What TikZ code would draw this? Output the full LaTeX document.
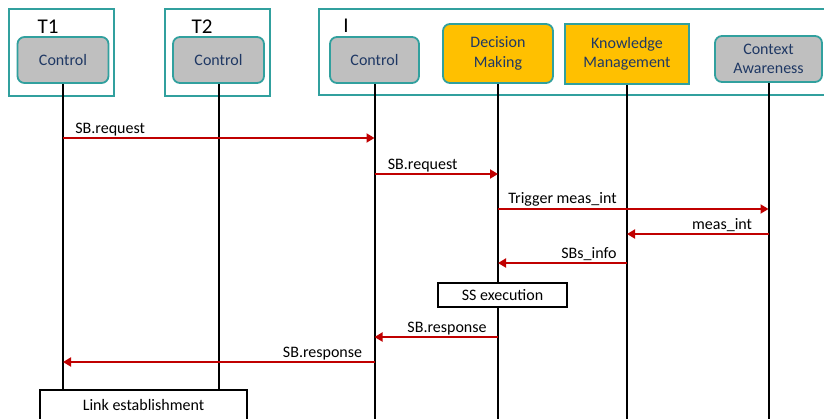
\documentclass[tikz,border=0pt]{standalone}
\usepackage{fontspec}
\setmainfont{Carlito}
\usetikzlibrary{arrows.meta}
\definecolor{frameteal}{RGB}{49,160,158}
\definecolor{boxgray}{RGB}{191,191,191}
\definecolor{boxyellow}{RGB}{255,192,0}
\definecolor{msgred}{RGB}{192,0,0}
\definecolor{boxtext}{RGB}{31,56,100}
\tikzset{
    frame/.style={draw=frameteal,line width=2pt,minimum width=105pt,minimum height=87pt},
    entity/.style={draw=frameteal,line width=1.8pt,rounded corners=7pt,fill=boxgray,text=boxtext,
        align=center,minimum width=91pt,minimum height=46pt,font=\fontsize{16pt}{19.5pt}\selectfont},
    life/.style={line width=2pt,black},
    msg/.style={line width=1.8pt,msgred,-{Triangle[length=8pt,width=9pt]}},
    lbl/.style={black,inner sep=1.5pt,font=\fontsize{16pt}{19pt}\selectfont},
    note/.style={draw,line width=1.6pt,fill=white,font=\fontsize{16pt}{19pt}\selectfont},
    tag/.style={font=\fontsize{21pt}{25pt}\selectfont}
}
\begin{document}
\begin{tikzpicture}[x=1pt,y=-1pt]
    \useasboundingbox (0,0) rectangle (824,418);
    \node[frame] (frameA) at (61.5,52) {};
    \node[frame] (frameB) at (217.5,52) {};
    \draw[draw=frameteal,line width=2pt] (830,9) -| (319,95) -- (830,95);
    \node[tag] (tagA) at (48,27) {T1};
    \node[tag] (tagB) at (202,27) {T2};
    \node[tag] (tagI) at (346,26) {I};

    \node[entity] (ctrlA) at (63,60) {Control};
    \node[entity] (ctrlB) at (218.5,60) {Control};
    \node[entity,minimum width=89pt] (ctrlI) at (374.5,60) {Control};
    \node[entity,fill=boxyellow,minimum width=110pt,minimum height=59pt] (dm) at (498,53.5) {Decision\\Making};
    \node[entity,fill=boxyellow,rounded corners=0pt,minimum width=124pt,minimum height=60pt] (km) at (627,54) {Knowledge\\Management};
    \node[entity,minimum width=107pt] (ca) at (768.5,59) {Context\\Awareness};

    \coordinate (bot) at (0,422);
    \foreach \r/\y in {r1/138,r2/174,r3/209,r4/234,r5/263,r6/337,r7/362}{
        \coordinate (\r) at (0,\y);
    }

    \node[note,minimum width=207pt,minimum height=30pt] (link) at (143.5,405) {};
    \draw[life] (ctrlA.south) -- (ctrlA.south |- link.north);
    \draw[life] (ctrlB.south) -- (ctrlB.south |- link.north);
    \foreach \n in {ctrlI,dm,km,ca}{
        \draw[life] (\n.south) -- (\n.south |- bot);
    }
    \node[lbl] (linktext) at (143.5,405) {Link establishment};
    \node[note,minimum width=129pt,minimum height=24pt,inner sep=0pt] (ss) at (502.5,295) {SS execution};

    \draw[msg] (ctrlA.south |- r1) -- node[pos=0,lbl,anchor=south west,xshift=10pt] {SB.request} (ctrlI.south |- r1);
    \draw[msg] (ctrlI.south |- r2) -- node[pos=0,lbl,anchor=south west,xshift=11pt] {SB.request} (dm.south |- r2);
    \draw[msg] (dm.south |- r3) -- node[pos=0,lbl,anchor=south west,xshift=8pt] {Trigger meas\_int} (ca.south |- r3);
    \draw[msg] (ca.south |- r4) -- node[pos=0,lbl,anchor=south east,xshift=-14pt] {meas\_int} (km.south |- r4);
    \draw[msg] (km.south |- r5) -- node[pos=0,lbl,anchor=south east,xshift=-8pt] {SBs\_info} (dm.south |- r5);
    \draw[msg] (dm.south |- r6) -- node[pos=0,lbl,anchor=south east,xshift=-9pt] {SB.response} (ctrlI.south |- r6);
    \draw[msg] (ctrlI.south |- r7) -- node[pos=0,lbl,anchor=south east,xshift=-10pt] {SB.response} (ctrlA.south |- r7);
\end{tikzpicture}
\end{document}
